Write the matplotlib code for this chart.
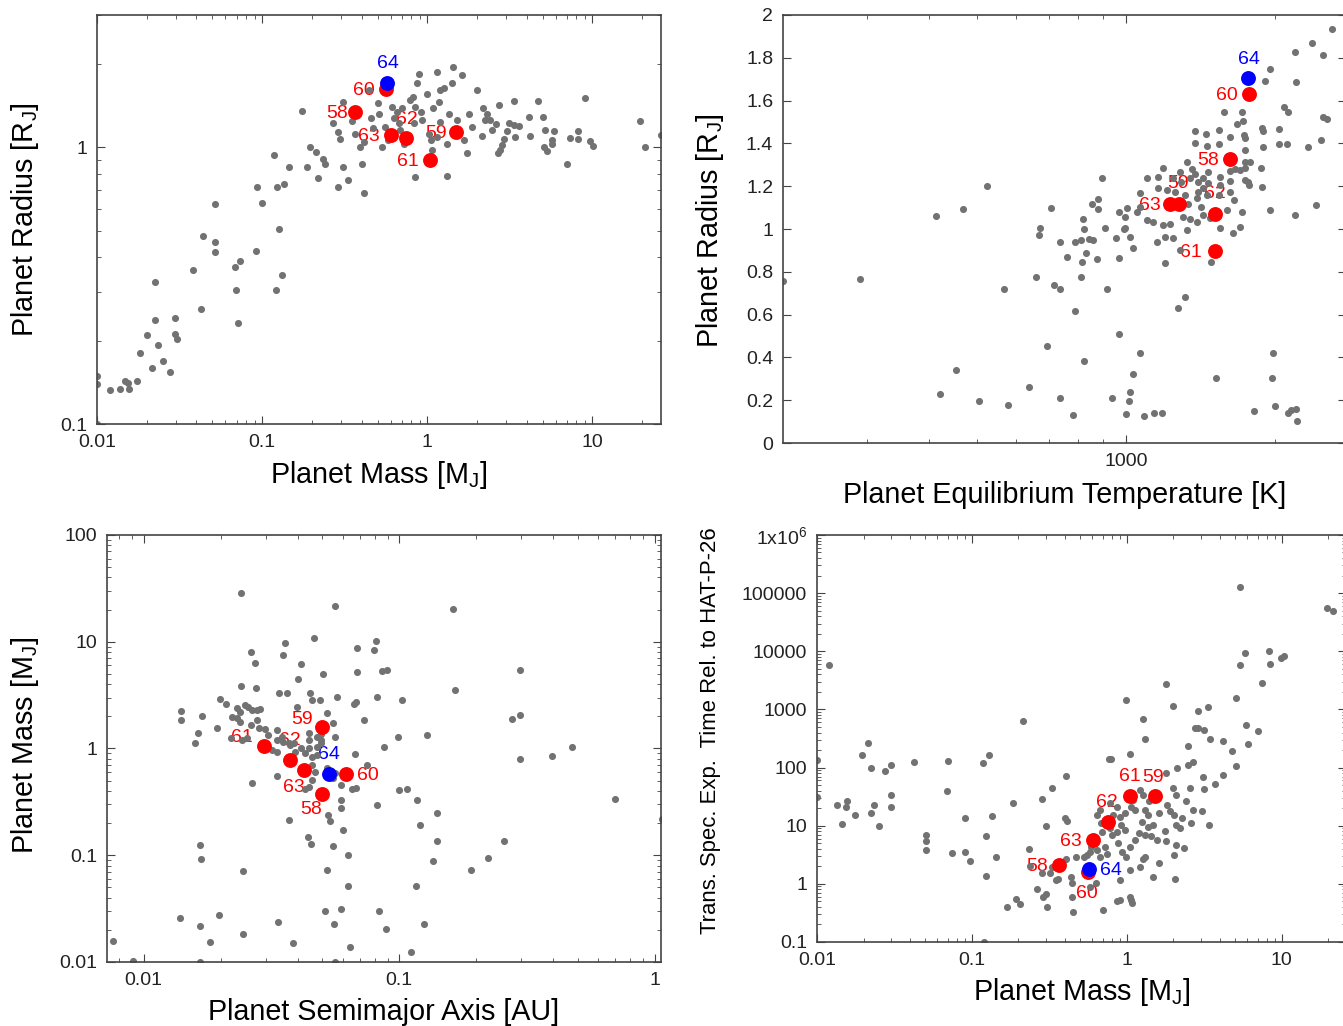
import matplotlib
matplotlib.use("Agg")
import matplotlib.pyplot as plt
from matplotlib.ticker import NullFormatter, FixedLocator

# ── highlighted planets (same in every panel) ───────────────────────────────
hl_names = ["58", "59", "60", "61", "62", "63", "64"]
hl_colors = ["red", "red", "red", "red", "red", "red", "blue"]

# ── panel 1: mass vs radius ─────────────────────────────────────────────────
p1_mass = [0.01, 0.01, 0.01, 0.012, 0.0137, 0.0148, 0.0155, 0.0157, 0.0175, 0.0183, 0.02, 0.0214,
           0.0224, 0.0224, 0.0235, 0.0251, 0.0276, 0.0295, 0.0297, 0.0306, 0.0379, 0.0428, 0.0436,
           0.0515, 0.0515, 0.0515, 0.0686, 0.0697, 0.0711, 0.0731, 0.0914, 0.0925, 0.1, 0.1175,
           0.121, 0.123, 0.127, 0.131, 0.135, 0.146,
           0.174, 0.188, 0.195, 0.211, 0.219, 0.232, 0.241, 0.267, 0.288, 0.297, 0.307, 0.286,
           0.307, 0.329, 0.35, 0.366, 0.402, 0.393, 0.415, 0.411, 0.441, 0.456, 0.469, 0.505,
           0.512, 0.531, 0.556, 0.575, 0.611, 0.625, 0.655, 0.67, 0.686, 0.702, 0.726, 0.789,
           0.819, 0.846, 0.866, 0.886, 0.916, 0.929, 0.826, 1.0, 1.02, 1.05, 1.07, 1.09, 1.15,
           1.17, 1.2, 1.26, 1.32, 1.35, 1.42, 1.44, 1.51, 1.62, 1.66, 0.846, 1.32, 1.15, 1.2,
           1.74, 1.78, 1.86, 2.0,
           2.18, 2.3, 2.22, 2.41, 2.14, 2.47, 2.7, 2.62, 3.04, 3.11, 3.33, 3.57, 3.41, 3.37,
           2.9, 2.84, 2.74, 2.67, 4.11, 4.21, 4.69, 5.02, 5.19, 5.83, 5.7, 5.7, 5.07, 5.31,
           7.03, 7.36, 8.15, 8.15, 8.95, 9.72, 10.1, 19.4, 20.7, 26.0]
p1_radius = [0.1, 0.149, 0.139, 0.133, 0.134, 0.143, 0.141, 0.134, 0.143, 0.181, 0.21, 0.16,
             0.326, 0.237, 0.193, 0.169, 0.154, 0.241, 0.211, 0.203, 0.361, 0.26, 0.476,
             0.623, 0.453, 0.417, 0.37, 0.304, 0.231, 0.388, 0.42, 0.716, 0.628, 0.938,
             0.304, 0.716, 0.506, 0.345, 0.736, 0.851,
             1.35, 0.845, 1.0, 0.957, 0.775, 0.908, 0.866, 1.22, 1.13, 1.07, 1.46, 0.719,
             0.845, 0.76, 1.245, 1.12, 0.868, 1.0, 0.682, 1.045, 1.61, 1.27, 1.17, 1.445,
             1.32, 1.0, 1.18, 1.06, 1.4, 1.27, 1.34, 1.22, 1.15, 1.38, 1.03, 1.48,
             1.52, 1.4, 1.7, 1.845, 1.34, 1.25, 1.22, 1.56, 1.12, 1.06, 0.975, 1.38, 1.87,
             1.46, 1.23, 1.63, 1.03, 1.32, 1.7, 1.95, 1.25, 1.82, 1.06, 0.78, 0.786, 1.09, 1.61,
             0.949, 1.32, 1.18, 1.61,
             1.38, 1.32, 1.25, 1.25, 1.1, 1.15, 1.42, 1.21, 1.14, 1.22, 1.2, 1.19, 1.09, 1.47,
             1.07, 1.02, 0.975, 0.954, 1.29, 1.1, 1.47, 1.28, 1.15, 1.14, 1.06, 1.03, 1.0, 0.967,
             0.868, 1.08, 1.14, 1.07, 1.51, 1.05, 1.01, 1.24, 1.0, 1.11]
p1_hl_mass = [0.363, 1.5, 0.56, 1.04, 0.746, 0.60, 0.57]
p1_hl_radius = [1.34, 1.13, 1.62, 0.90, 1.08, 1.11, 1.71]

# ── panel 2: equilibrium temperature vs radius ──────────────────────────────
p2_teq = [203, 291, 414, 468, 523, 421, 453, 504, 578, 567, 637, 659, 666, 671, 692, 706, 716,
          735, 735, 735, 761, 780, 788, 790, 813, 813, 816, 819, 823, 823, 829, 841, 854, 856,
          875, 877, 877, 893, 906, 916, 938, 953, 967, 967, 967, 993,
          1000, 1012, 1020, 1032, 1069, 1089, 1140, 1180, 1273, 1318, 1520, 1811, 1982, 1975,
          2000, 2128, 2150, 2200, 2213,
          2611, 2377, 2495, 2192, 1954, 1904, 2200, 2084, 2128, 2497, 2550, 2034, 1880, 1890,
          2034, 2113, 2331, 2472, 1890, 1870, 1880, 1954, 2192, 2421,
          1577, 1713, 1675, 1720, 1544, 1451, 1379, 1379, 1455, 1544, 1623, 1731, 1740, 1740,
          1740, 1780, 1656, 1699, 1735, 1767, 1735, 1623, 1623, 1623, 1549, 1549, 1544, 1466,
          1466, 1429, 1429, 1400, 1400, 1390, 1415, 1359, 1379, 1326, 1346, 1285, 1294, 1247,
          1256, 1186, 1159, 1101, 1067, 1160, 1208, 1316, 1336, 1306, 1346, 1390, 1429, 1479,
          1549, 1596, 1644, 1699, 1713, 1775, 1649, 1460, 1186, 1227, 1136, 1101, 1051, 1067,
          1003, 995, 995, 1019, 1034, 1154, 1199, 1247, 1285, 1326, 1199, 1483]
p2_radius = [0.755, 0.766, 1.063, 1.094, 1.203, 0.229, 0.342, 0.195, 0.179, 0.719, 0.26, 0.774,
             0.971, 1.004, 0.454, 1.097, 0.739, 0.719, 0.21, 0.939, 0.868, 0.132, 0.618, 0.939,
             0.949, 0.775, 0.845, 1.048, 0.999, 0.381, 0.887, 0.953, 1.117, 0.949, 0.861, 1.141,
             1.094, 1.237, 1.007, 0.719, 0.21, 0.96, 0.864, 0.509, 1.079, 1.001,
             0.135, 0.198, 0.237, 0.324, 0.42, 0.128, 0.14, 0.14, 0.63, 0.68, 0.303, 0.148, 0.42,
             0.303, 0.171, 0.14, 0.156, 0.159, 0.101,
             1.933, 1.868, 1.813, 1.829, 1.748, 1.692, 1.686, 1.572, 1.545, 1.525, 1.513, 1.466,
             1.47, 1.46, 1.398, 1.398, 1.385, 1.416, 1.382, 1.284, 1.198, 1.09, 1.066, 1.11,
             1.548, 1.548, 1.489, 1.505, 1.463, 1.443, 1.46, 1.403, 1.388, 1.396, 1.431, 1.44,
             1.427, 1.369, 1.313, 1.313, 1.28, 1.276, 1.283, 1.221, 1.229, 1.271, 1.224, 1.174,
             1.244, 1.205, 1.159, 1.268, 1.213, 1.237, 1.19, 1.221, 1.174, 1.143, 1.104, 1.279,
             1.256, 1.315, 1.24, 1.268, 1.221, 1.237, 1.174, 1.287, 1.244, 1.24, 1.167, 1.19,
             1.182, 1.159, 1.115, 1.058, 1.047, 1.034, 1.065, 1.05, 1.003, 1.089, 0.98, 1.011,
             1.081, 1.205, 1.136, 1.159, 1.019, 1.022, 1.034, 1.042, 1.081, 1.104, 1.097, 1.058,
             1.003, 0.964, 0.91, 0.941, 0.964, 0.956, 0.902, 0.995, 0.84, 0.846]
p2_hl_teq = [1623, 1281, 1774, 1510, 1513, 1227, 1767]
p2_hl_radius = [1.327, 1.117, 1.629, 0.899, 1.069, 1.117, 1.707]

# ── panel 3: semimajor axis vs mass ─────────────────────────────────────────
p3_axis = [0.0561, 0.162, 0.081, 0.0686, 0.0794, 0.0686, 0.0858, 0.0898, 0.297, 0.165, 0.045,
           0.052, 0.055, 0.063, 0.063, 0.083, 0.0884, 0.116, 0.121, 0.128, 0.135, 0.125, 0.111,
           0.141, 0.141, 0.19, 0.222, 0.257, 0.276, 0.297, 0.297, 0.397, 0.472, 0.698, 1.066,
           0.0076, 0.0091, 0.0166, 0.056, 0.0139, 0.0167, 0.0182, 0.0198, 0.0244, 0.0336, 0.0383,
           0.0514, 0.0554, 0.059, 0.064, 0.0166, 0.0168, 0.0244,
           0.0241, 0.0356, 0.0352, 0.0466, 0.0264, 0.0274, 0.0413, 0.0504, 0.0401, 0.0241,
           0.0275, 0.0199, 0.0211, 0.034, 0.0363, 0.0449, 0.0456, 0.0489, 0.014, 0.014, 0.0169,
           0.0164, 0.0159, 0.0194, 0.0232, 0.0239, 0.025, 0.0257, 0.0266, 0.0278, 0.0286,
           0.0222, 0.0232, 0.0239, 0.0278, 0.0262, 0.0282, 0.0299, 0.0308, 0.0219, 0.0243,
           0.0254, 0.0333, 0.0351, 0.0369, 0.0387, 0.0442, 0.0442, 0.0494, 0.0494, 0.0494,
           0.0522, 0.0398,
           0.0571, 0.0664, 0.068, 0.073, 0.0818, 0.102, 0.0873, 0.0992, 0.117, 0.107, 0.1,
           0.0818, 0.0748, 0.0671, 0.0652, 0.0589, 0.0589, 0.0589, 0.0528, 0.0535, 0.0605,
           0.0439, 0.0372, 0.0333, 0.0266, 0.0563, 0.055, 0.0442, 0.0456, 0.0456, 0.0456,
           0.0442, 0.0429, 0.0476, 0.0476, 0.0476, 0.0374, 0.0392, 0.0411, 0.0429, 0.0333,
           0.0318, 0.0304, 0.0333, 0.0347, 0.047, 0.0522, 0.055, 0.0563, 0.0679]
p3_mass = [21.4, 20.2, 10.1, 8.7, 8.4, 5.16, 5.28, 5.47, 5.4, 3.51, 0.127,
           0.0724, 0.122, 0.1, 0.0517, 0.0302, 0.0203, 0.0517, 0.192, 1.33, 0.0886, 0.0226, 0.0123,
           0.251, 0.136, 0.0724, 0.095, 0.136, 1.87, 2.05, 0.789, 0.848, 1.04, 0.333, 0.217,
           0.0158, 0.0102, 0.01, 0.01, 0.0258, 0.0215, 0.0155, 0.0277, 0.0183, 0.0235, 0.0149,
           0.0298, 0.0226, 0.0313, 0.0137, 0.124, 0.0918, 0.0715,
           28.5, 9.8, 7.5, 10.9, 7.96, 6.28, 6.15, 4.99, 4.45, 3.87,
           3.66, 2.89, 2.61, 3.29, 3.29, 3.33, 2.85, 2.87, 2.26, 1.85, 2.03,
           1.41, 1.12, 1.55, 2.38, 2.21, 2.55, 2.46, 2.3, 2.3, 2.33,
           1.99, 1.92, 1.78, 1.85, 1.66, 1.55, 1.51, 1.34, 1.24, 1.2,
           1.24, 1.2, 1.16, 1.12, 1.12, 1.2, 1.39, 1.37, 1.2, 1.12,
           2.17, 2.47,
           3.02, 2.61, 2.7, 1.85, 3.06, 2.85, 1.03, 1.29, 0.33, 0.415, 0.41,
           0.296, 0.7, 0.887, 0.415, 0.455, 0.33, 0.275, 0.238, 0.21, 0.172,
           0.149, 0.214, 0.552, 0.472, 1.29, 1.72, 1.0, 0.84, 0.7, 0.507,
           0.438, 0.42, 1.29, 1.04, 0.87, 1.07, 0.93, 1.0, 0.91, 0.93,
           0.96, 1.0, 1.49, 1.29, 0.607, 0.652, 0.526, 0.59, 0.43]
p3_hl_axis = [0.0497, 0.05, 0.0617, 0.0297, 0.0375, 0.0424, 0.053]
p3_hl_mass = [0.377, 1.58, 0.58, 1.05, 0.773, 0.622, 0.58]

# ── panel 4: mass vs transmission spectroscopy exposure time ────────────────
p4_mass = [0.01, 0.01, 0.012, 0.01355, 0.0156, 0.0155, 0.0146, 0.0177, 0.0196, 0.0213, 0.0222,
           0.0222, 0.0233, 0.0251, 0.0276, 0.0299, 0.0299, 0.0299, 0.0421, 0.0506, 0.0506,
           0.0506, 0.069, 0.0697, 0.119, 0.99,
           1.48, 1.62, 1.98, 2.05, 2.47, 2.74, 2.88, 2.88, 3.14, 3.1, 3.16, 3.36, 3.4, 3.47,
           3.69, 4.18, 4.18, 4.79, 5.09, 5.09, 5.35, 5.42, 5.76, 5.87, 6.02, 7.07, 7.48, 8.25,
           8.36, 9.94, 10.4, 19.6, 21.5, 1.8,
           1.39, 1.62, 1.76, 1.89, 2.01, 1.78, 2.08, 2.21, 2.28, 2.58, 2.66, 2.08, 2.35, 2.01,
           2.42, 2.08, 1.83, 1.99, 1.78, 2.11, 2.5, 2.66, 2.55, 3.07, 1.57, 1.43, 1.48,
           0.214, 0.129, 0.118, 0.408, 0.769, 0.79, 1.045, 1.31, 1.28, 0.327, 0.282, 0.185,
           0.134, 0.0902, 0.124, 0.074, 0.0902, 0.097, 0.144, 0.123, 0.303, 0.398, 0.41, 0.234,
           0.236, 0.327, 0.282, 0.32, 0.264, 0.29, 0.3, 0.192, 0.205, 0.168, 0.348, 0.36, 0.408,
           0.469, 0.436, 0.44, 0.441, 0.577, 0.637, 0.703, 0.901, 0.87, 1.057, 1.07, 1.08, 0.9,
           1.05, 1.21, 1.27, 1.31, 1.045, 1.13, 1.2, 1.31, 1.25, 1.37, 0.879, 0.935, 0.99,
           0.777, 0.8, 0.86, 0.697, 0.72, 0.74, 0.62, 0.64, 0.67, 0.577, 0.59, 0.556, 0.529,
           0.9, 0.97, 1.07, 1.13, 1.1, 1.21, 1.27, 0.777, 0.86, 0.81, 0.64, 0.67, 0.685, 0.92,
           0.97, 1.31, 1.37, 0.306, 0.45]
p4_time = [135, 30.6, 5750, 22.3, 26.1, 20.6, 10.8, 15.5, 165, 261, 100,
           16.5, 22.9, 9.75, 87.7, 111, 33.6, 21.2, 123, 7.0, 5.4,
           3.88, 39.8, 130, 0.1, 1445,
           1.32, 2.29, 1140, 1.22, 235, 485, 485, 948, 443, 68, 42.6, 1082, 10.4, 310,
           51.8, 286, 74.8, 193, 107, 1585, 5900, 126800, 9480, 538, 255, 426, 2900, 10000,
           6150, 7700, 8300, 55300, 49100, 2685,
           26.1, 16.5, 8.0, 17.6, 15.5, 5.4, 10.4, 9.1, 13.5, 11.1, 18.8, 4.72, 4.14, 3.18,
           26.1, 34, 22.3, 44.3, 80, 97.5, 111, 127, 44.3, 17.6, 5.75, 6.6, 10.4,
           632, 164, 118, 71.6, 140, 140, 169, 306, 684, 45, 28.5, 24.8,
           14.9, 13.4, 6.65, 3.43, 3.57, 2.5, 2.93, 1.38, 9.89, 13.4, 12.2, 3.93,
           2.05, 1.97, 1.52, 1.52, 0.806, 0.601, 0.67, 0.542, 0.45, 0.405, 1.16, 1.2, 2.64,
           2.93, 1.33, 1.05, 0.6, 0.89, 1.05, 0.355, 0.527, 0.5, 0.6, 0.53, 0.46, 1.16,
           1.73, 1.97, 2.64, 2.93, 4.35, 5.67, 7.4, 7.0, 11.7, 9.6, 4.98, 3.57, 2.93,
           9.0, 7.0, 7.9, 7.9, 4.35, 3.2, 4.98, 3.8, 2.93, 3.57, 4.35, 3.1, 2.93,
           14.3, 16.3, 21.2, 18.6, 27.7, 41, 33.7, 24.3, 21.2, 15.3, 15.3, 18.6, 11, 10.3,
           8.4, 18.6, 15.3, 0.405, 0.332]
p4_hl_mass = [0.367, 1.52, 0.566, 1.05, 0.757, 0.602, 0.573]
p4_hl_time = [2.14, 31.8, 1.61, 31.8, 11.6, 5.75, 1.81]

# ── style ───────────────────────────────────────────────────────────────────
plt.rcParams.update({
    "font.family": ["Liberation Sans", "DejaVu Sans"],
    "mathtext.default": "regular",
    "xtick.direction": "in", "ytick.direction": "in",
    "xtick.top": True, "ytick.right": True,
    "xtick.major.size": 6, "ytick.major.size": 6,
    "xtick.minor.size": 3, "ytick.minor.size": 3,
    "xtick.color": "#444444", "ytick.color": "#444444",
    "xtick.labelcolor": "#222222", "ytick.labelcolor": "#222222",
    "xtick.labelsize": 14, "ytick.labelsize": 14,
    "axes.edgecolor": "#444444", "axes.linewidth": 1.2,
})

GRAY = "#727272"
LABEL_SIZE = 20.7

fig = plt.figure(figsize=(13.43, 10.26), dpi=100)
ax1 = fig.add_axes([0.0722, 0.5867, 0.4200, 0.3986])
ax2 = fig.add_axes([0.5830, 0.5682, 0.4192, 0.4172])
ax3 = fig.add_axes([0.0797, 0.0624, 0.4125, 0.4162])
ax4 = fig.add_axes([0.6083, 0.0819, 0.3939, 0.3967])


def draw(ax, gx, gy, hx, hy, offsets):
    ax.scatter(gx, gy, s=26, color=GRAY, linewidths=0, zorder=2)
    for i in range(len(hl_names)):
        ax.scatter([hx[i]], [hy[i]], s=115, color=hl_colors[i], linewidths=0, zorder=3)
        dx, dy, ha = offsets[hl_names[i]]
        ax.annotate(hl_names[i], (hx[i], hy[i]), xytext=(dx, dy), textcoords="offset points",
                    ha=ha, va="center", fontsize=14, color=hl_colors[i], zorder=1)
    ax.xaxis.set_minor_formatter(NullFormatter())
    ax.yaxis.set_minor_formatter(NullFormatter())
    ax.tick_params(which="both", pad=7)


# ── panel 1 ─────────────────────────────────────────────────────────────────
ax1.set_xscale("log")
ax1.set_yscale("log")
ax1.set_xlim(0.01, 26)
ax1.set_ylim(0.1, 3.0)
draw(ax1, p1_mass, p1_radius, p1_hl_mass, p1_hl_radius,
     {"58": (-5, -1, "right"), "59": (-7, -1, "right"), "60": (-8, -1, "right"),
      "61": (-8.5, -1, "right"), "62": (0.5, 13, "center"), "63": (-7.7, -1, "right"),
      "64": (0.5, 14, "center")})
ax1.set_xticks([0.01, 0.1, 1, 10], ["0.01", "0.1", "1", "10"])
ax1.set_yticks([0.1, 1], ["0.1", "1"])
ax1.set_xlabel(r"Planet Mass [M$_\mathregular{J}$]", fontsize=LABEL_SIZE, va="center")
ax1.set_ylabel(r"Planet Radius [R$_\mathregular{J}$]", fontsize=LABEL_SIZE, va="center")
ax1.xaxis.set_label_coords(0.5, -0.125)
ax1.yaxis.set_label_coords(-0.128, 0.5)

# ── panel 2 ─────────────────────────────────────────────────────────────────
ax2.set_xscale("log")
ax2.set_xlim(203, 2780)
ax2.set_ylim(0, 2)
draw(ax2, p2_teq, p2_radius, p2_hl_teq, p2_hl_radius,
     {"58": (-8, -1, "right"), "59": (-0.7, 15, "center"), "60": (-8, -1, "right"),
      "61": (-9, -1, "right"), "62": (0, 14.6, "center"), "63": (-6.7, -1, "right"),
      "64": (0, 13, "center")})
ax2.set_xticks([1000], ["1000"])
ax2.xaxis.set_minor_locator(FixedLocator([300, 400, 500, 600, 700, 800, 900, 2000]))
ax2.set_yticks([0, 0.2, 0.4, 0.6, 0.8, 1.0, 1.2, 1.4, 1.6, 1.8, 2.0],
               ["0", "0.2", "0.4", "0.6", "0.8", "1", "1.2", "1.4", "1.6", "1.8", "2"])
ax2.set_xlabel("Planet Equilibrium Temperature [K]", fontsize=LABEL_SIZE, va="center")
ax2.set_ylabel(r"Planet Radius [R$_\mathregular{J}$]", fontsize=LABEL_SIZE, va="center")
ax2.xaxis.set_label_coords(0.5, -0.121)
ax2.yaxis.set_label_coords(-0.13, 0.497)

# ── panel 3 ─────────────────────────────────────────────────────────────────
ax3.set_xscale("log")
ax3.set_yscale("log")
ax3.set_xlim(0.0072, 1.055)
ax3.set_ylim(0.01, 100)
draw(ax3, p3_axis, p3_mass, p3_hl_axis, p3_hl_mass,
     {"58": (-7.7, -11.3, "center"), "59": (-14.4, 5.5, "center"), "60": (16, -1, "center"),
      "61": (-16, 6, "center"), "62": (-0.7, 14, "center"), "63": (-7.2, -12.5, "center"),
      "64": (0, 14, "center")})
ax3.set_xticks([0.01, 0.1, 1], ["0.01", "0.1", "1"])
ax3.set_yticks([0.01, 0.1, 1, 10, 100], ["0.01", "0.1", "1", "10", "100"])
ax3.set_xlabel("Planet Semimajor Axis [AU]", fontsize=LABEL_SIZE, va="center")
ax3.set_ylabel(r"Planet Mass [M$_\mathregular{J}$]", fontsize=LABEL_SIZE, va="center")
ax3.xaxis.set_label_coords(0.5, -0.117)
ax3.yaxis.set_label_coords(-0.148, 0.508)

# ── panel 4 ─────────────────────────────────────────────────────────────────
ax4.set_xscale("log")
ax4.set_yscale("log")
ax4.set_xlim(0.01, 26)
ax4.set_ylim(0.1, 1e6)
draw(ax4, p4_mass, p4_time, p4_hl_mass, p4_hl_time,
     {"58": (-8, -1, "right"), "59": (-1, 14, "center"), "60": (-1, -15.6, "center"),
      "61": (0, 14.5, "center"), "62": (-1, 14, "center"), "63": (-7.7, -1, "right"),
      "64": (8, -1, "left")})
ax4.set_xticks([0.01, 0.1, 1, 10], ["0.01", "0.1", "1", "10"])
ax4.set_yticks([0.1, 1, 10, 100, 1000, 1e4, 1e5, 1e6],
               ["0.1", "1", "10", "100", "1000", "10000", "100000", r"1x10$^{6}$"])
ax4.set_xlabel(r"Planet Mass [M$_\mathregular{J}$]", fontsize=LABEL_SIZE, va="center")
ax4.set_ylabel("Trans. Spec. Exp.  Time Rel. to HAT-P-26", fontsize=15.9, va="center")
ax4.xaxis.set_label_coords(0.5, -0.123)
ax4.yaxis.set_label_coords(-0.202, 0.52)

fig.savefig("out.png", dpi=100)
